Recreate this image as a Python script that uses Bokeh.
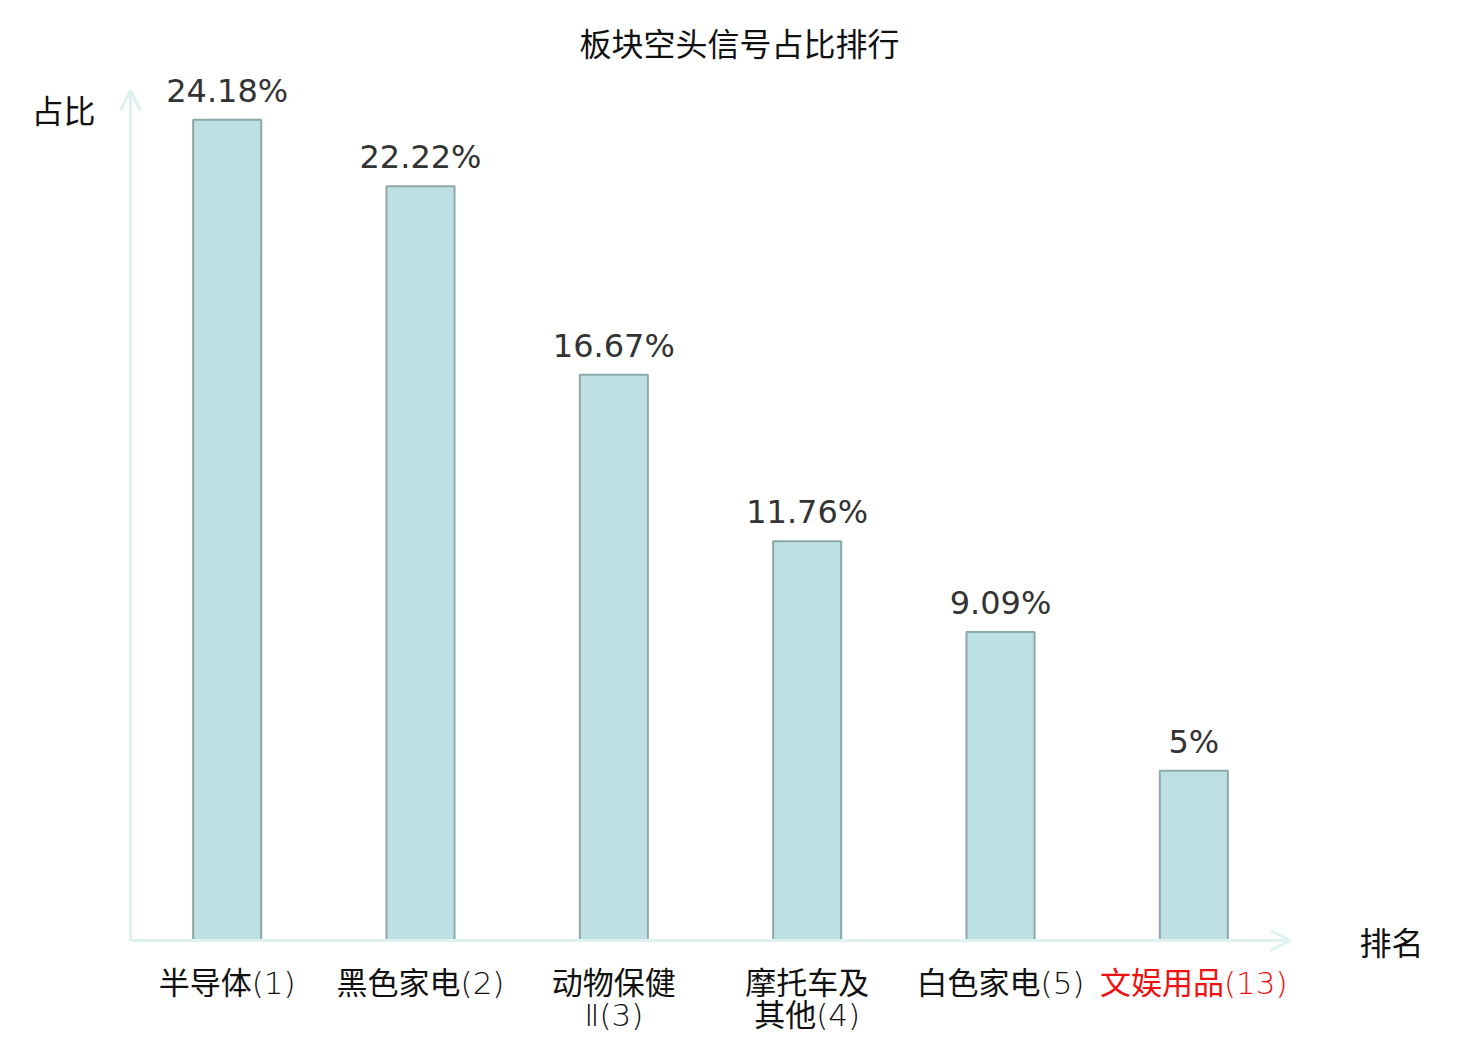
from bokeh.plotting import figure
from bokeh.models import Range1d, Arrow, OpenHead, ColumnDataSource
from bokeh.core.properties import value
from bokeh.embed import file_html
from bokeh.resources import INLINE

title_text = "板块空头信号占比排行"
y_name = "占比"
x_name = "排名"
categories = ["半导体(1)", "黑色家电(2)", "动物保健\nⅡ(3)", "摩托车及\n其他(4)", "白色家电(5)", "文娱用品(13)"]
label_colors = ["#111111", "#111111", "#111111", "#111111", "#111111", "#ee1111"]
values = [24.18, 22.22, 16.67, 11.76, 9.09, 5.0]
value_labels = ["24.18%", "22.22%", "16.67%", "11.76%", "9.09%", "5%"]
y_max = 25.04

W, H = 1480, 1040
# page-pixel layout of the value frame
left_px, right_px, top_px, bottom_px = 130, 1290, 90, 940
n = len(categories)
xs = (right_px - left_px) / n          # px per category
ys = (bottom_px - top_px) / y_max      # px per unit

def dx(px):
    return (px - left_px) / xs

def dy(py):
    return (bottom_px - py) / ys

p = figure(width=W, height=H, output_backend="svg", toolbar_location=None,
           x_range=Range1d(dx(0), dx(W)), y_range=Range1d(dy(H), dy(0)),
           min_border=0, outline_line_color=None)
p.axis.visible = False
p.grid.visible = False

centers = [i + 0.5 for i in range(n)]
src = ColumnDataSource(dict(x=centers, top=values, lab=value_labels,
                            cat=categories, col=label_colors))

p.vbar(x="x", top="top", bottom=0, width=0.352, source=src,
       fill_color="#BCE0E3", line_color="#8DA8A8", line_width=2)

# axes with arrows
axis_col = "#DDF1EE"
p.add_layout(Arrow(x_start=0, y_start=0, x_end=0, y_end=y_max,
                   line_color=axis_col, line_width=3,
                   end=OpenHead(size=20, line_color=axis_col, line_width=3)))
p.add_layout(Arrow(x_start=0, y_start=0, x_end=n, y_end=0,
                   line_color=axis_col, line_width=3,
                   end=OpenHead(size=20, line_color=axis_col, line_width=3)))

# value labels
p.text(x="x", y="top", text="lab", source=src, text_align="center",
       text_baseline="alphabetic", y_offset=-29, text_color="#333333",
       text_font=value("DejaVu Sans"), text_font_size="32px")

lab_font = value("DejaVu Sans Light, Noto Sans CJK SC")
# category labels
p.text(x="x", y=0, text="cat", source=src, text_align="center",
       text_baseline="top", y_offset=24, text_color="col",
       text_font=lab_font, text_font_size="31px",
       text_line_height=0.9)

# axis names and title
cjk = value("Noto Sans CJK SC")
p.text(x=[dx(63)], y=[dy(108)], text=[y_name], text_align="center",
       text_baseline="middle", text_color="#111111",
       text_font=cjk, text_font_size="32px")
p.text(x=[dx(1391)], y=[dy(940)], text=[x_name], text_align="center",
       text_baseline="middle", text_color="#111111",
       text_font=cjk, text_font_size="32px")
p.text(x=[dx(739)], y=[dy(41)], text=[title_text], text_align="center",
       text_baseline="middle", text_color="#111111",
       text_font=cjk, text_font_size="32px")

open("out.html", "w").write(file_html(p, INLINE))
